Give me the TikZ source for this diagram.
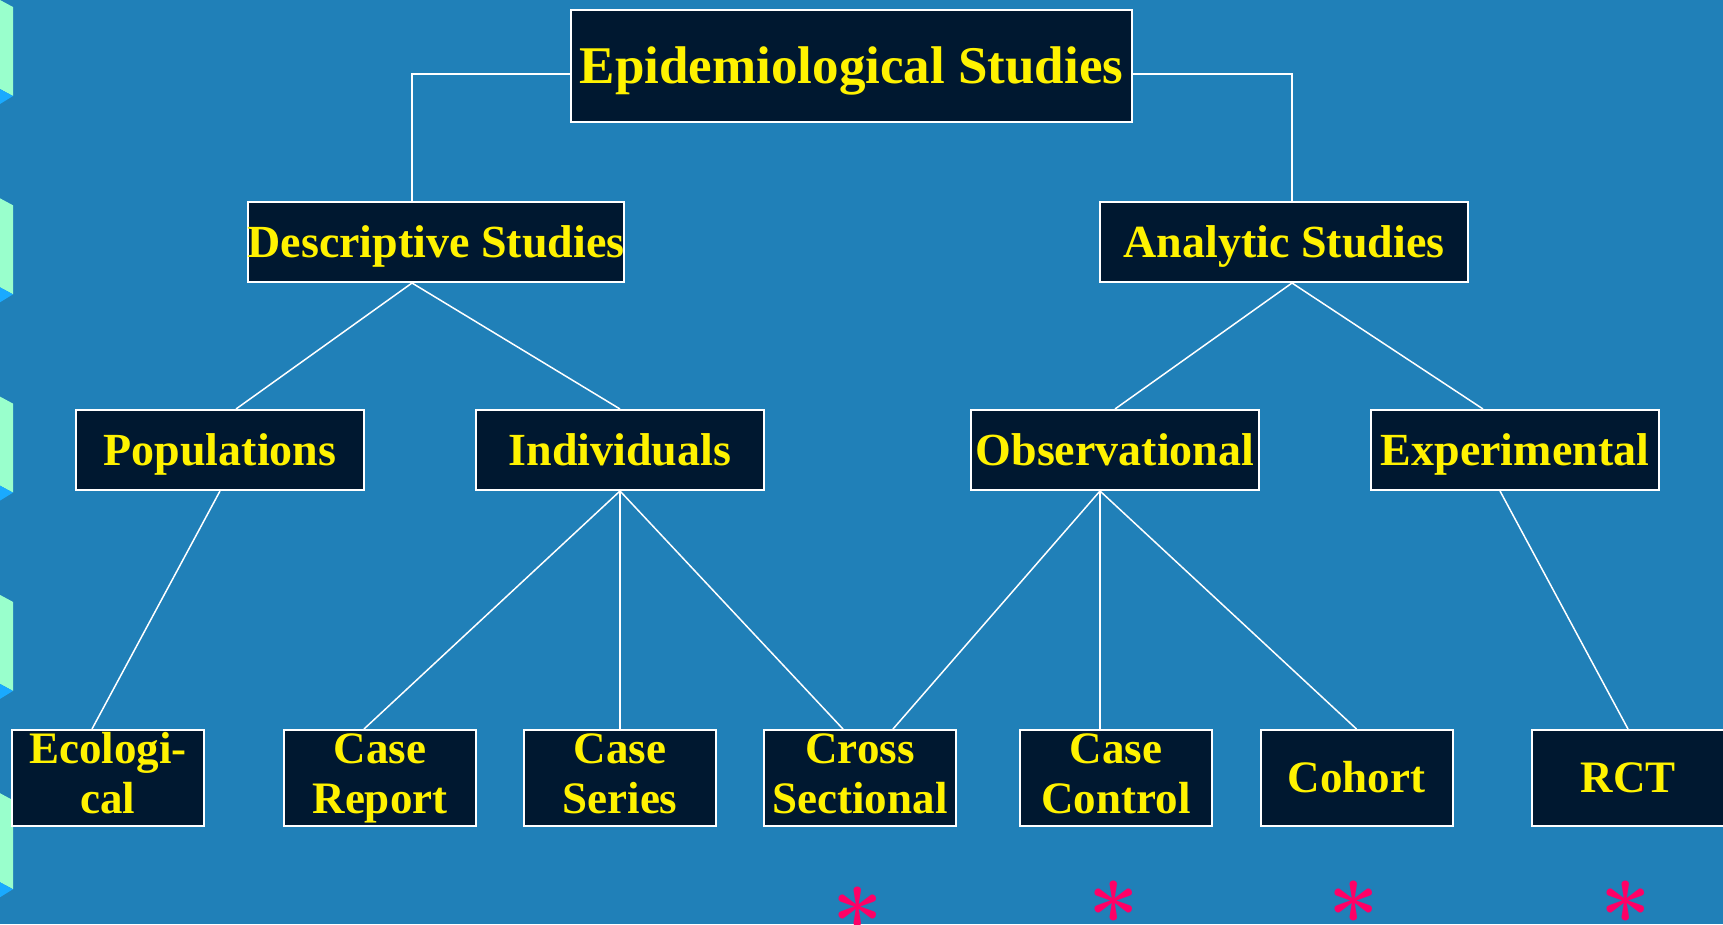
\documentclass[tikz,border=0pt]{standalone}
\usepackage{fontspec}
\setmainfont{Liberation Serif}
\newfontfamily\lmast{Latin Modern Roman}
\definecolor{slidebg}{RGB}{32,128,184}
\definecolor{boxfill}{RGB}{0,24,48}
\definecolor{tabmint}{RGB}{153,255,204}
\definecolor{tabblue}{RGB}{26,170,255}
\definecolor{starpink}{RGB}{255,0,102}

\begin{document}
\begin{tikzpicture}[x=1pt, y=-1pt,
  box/.style={draw=white, line width=2pt, fill=boxfill, text=yellow, align=center,
    inner sep=0pt, font=\bfseries\fontsize{46}{50}\selectfont},
  oneline/.style={text height=#1, text depth=0pt},
  link/.style={draw=white, line width=1.5pt},
  asterisk/.style={text=starpink, inner sep=0pt, anchor=base, font=\lmast\bfseries\fontsize{90}{90}\selectfont}]
%background
\fill[slidebg] (0,0) rectangle (1723,924);
\useasboundingbox (0,0) rectangle (1723,924);
%side tabs
\foreach \t in {0,198.3,396.6,594.9,793.2}{
	\fill[tabmint] (0,\t) -- (13,\t+7) -- (13,\t+96) -- (0,\t+89) -- cycle;
	\fill[tabblue] (0,\t+89) -- (13,\t+96) -- (0,\t+104) -- cycle;
}
%top
\node[box, oneline=35pt, minimum width=561pt, minimum height=112pt, font=\bfseries\fontsize{53}{60}\selectfont]
	(epi) at (851.5,66) {Epidemiological Studies};
%second row
\node[box, oneline=30.5pt, minimum width=368pt, minimum height=80pt] (desc) at (436,242) {Descriptive Studies};
\node[box, oneline=30.5pt, minimum width=368pt, minimum height=80pt] (anal) at (1284,242) {Analytic Studies};
%third row
\node[box, oneline=30.5pt, minimum width=288pt, minimum height=80pt] (pop) at (220,450) {Populations};
\node[box, oneline=30.5pt, minimum width=288pt, minimum height=80pt] (indiv) at (620,450) {Individuals};
\node[box, oneline=30.5pt, minimum width=288pt, minimum height=80pt] (obs) at (1115,450) {Observational};
\node[box, oneline=30.5pt, minimum width=288pt, minimum height=80pt] (exper) at (1515,450) {Experimental};
%bottom row
\tikzset{bottom/.style={box, minimum width=192pt, minimum height=96pt, font=\bfseries\fontsize{45}{50}\selectfont}}
\foreach \x/\name/\txt in {108/eco/Ecologi-\\cal, 380/crep/Case\\Report, 620/cser/Case\\Series,
	860/cross/Cross\\Sectional, 1116/cctrl/Case\\Control}{
	\node[bottom] (\name) at (\x,778) {\txt\vphantom{p}};
}
\node[bottom, oneline=29.8pt] (cohort) at (1356.5,778) {Cohort};
\node[bottom, oneline=29.8pt] (rct) at (1628,778) {RCT};
%connectors
\draw[link] ([yshift=-8pt]epi.west) -| ([xshift=-24pt]desc.north);
\draw[link] ([yshift=-8pt]epi.east) -| ([xshift=8pt]anal.north);
\draw[link] ([xshift=16pt]pop.north) -- ([xshift=-24pt]desc.south) -- (indiv.north);
\draw[link] (obs.north) -- ([xshift=8pt]anal.south) -- ([xshift=-32pt]exper.north);
\draw[link] (pop.south) -- ([xshift=-16pt]eco.north);
\draw[link] ([xshift=-16pt]crep.north) -- (indiv.south) -- ([xshift=-17pt]cross.north);
\draw[link] (indiv.south) -- (cser.north);
\draw[link] ([xshift=33pt]cross.north) -- ([xshift=-15pt]obs.south) -- (cohort.north);
\draw[link] ([xshift=-15pt]obs.south) -- ([xshift=-16pt]cctrl.north);
\draw[link] ([xshift=-15pt]exper.south) -- (rct.north);
%asterisks
\node[asterisk] (a1) at (858,954) {*};
\node[asterisk] (a2) at (1114,948) {*};
\node[asterisk] (a3) at (1354,948) {*};
\node[asterisk] (a4) at (1626,948) {*};
\end{tikzpicture}
\end{document}
